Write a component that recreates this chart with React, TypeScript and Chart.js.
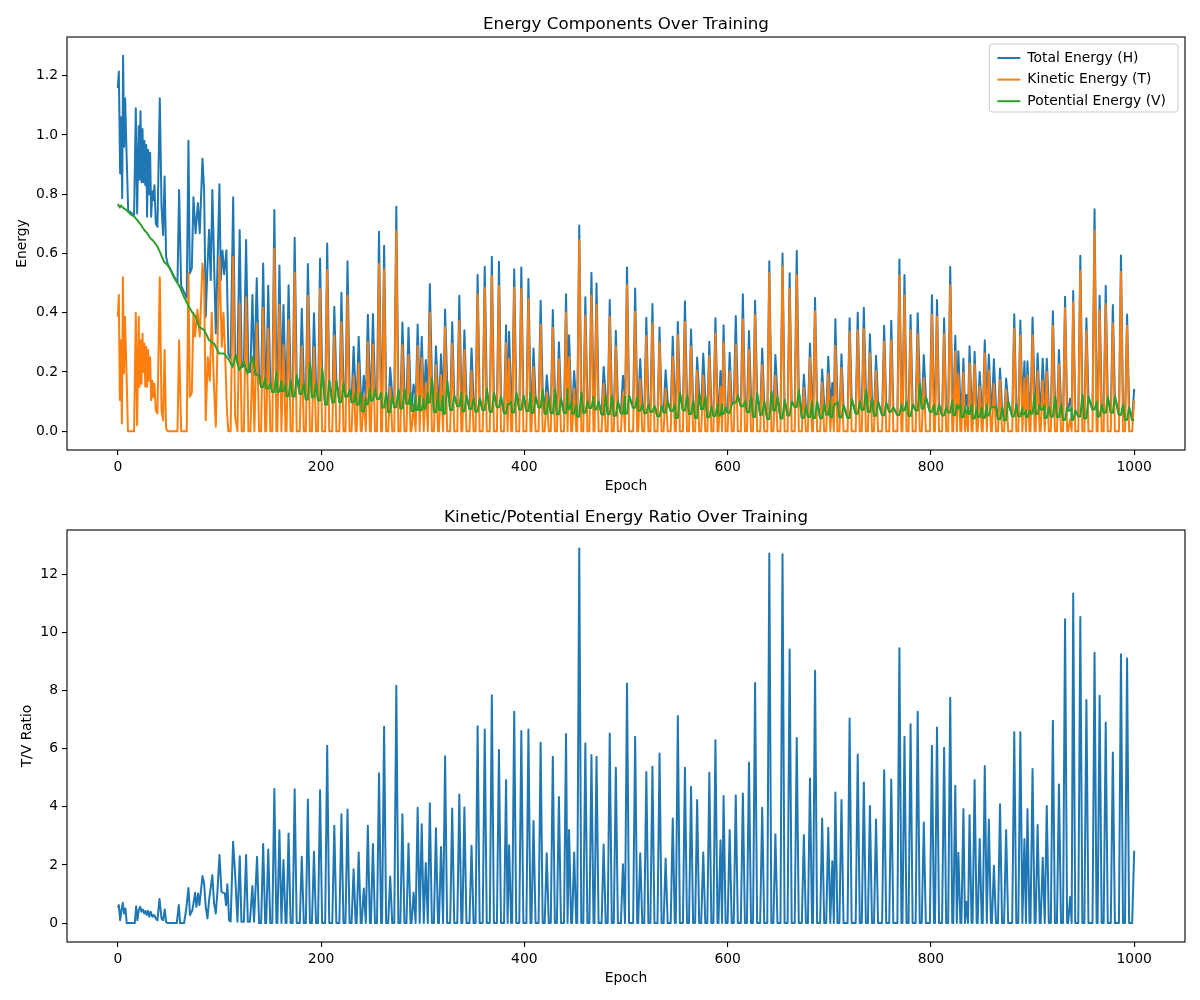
import { useEffect, useRef } from "react";
import { Chart, registerables } from "chart.js";

Chart.register(...registerables);

const FONT = "'DejaVu Sans', sans-serif";
const BLUE = "#1f77b4";
const ORANGE = "#ff7f0e";
const GREEN = "#2ca02c";

// epochs 0-140: irregular start, read point by point as [epoch, value]
const earlyTotal: [number, number][] = [
  [0, 1.158], [1, 1.214], [2.3, 0.87], [3.3, 1.06], [4.3, 0.786], [5.2, 1.267], [6.2, 0.96], [7.2, 1.124],
  [8.5, 0.95], [10.2, 0.745], [16, 0.73], [17.7, 1.09], [19, 0.735], [20.6, 1.03], [21.3, 0.85], [22.3, 1.08],
  [23.3, 0.84], [24.3, 1.02], [25.2, 0.84], [26.2, 0.98], [27, 0.83], [28, 0.966], [28.8, 0.724], [29.8, 0.95],
  [30.8, 0.8], [31.8, 0.94], [32.8, 0.724], [34, 0.81], [35, 0.78], [36, 0.83], [37.4, 0.7], [39, 0.69],
  [41.3, 1.124], [43, 0.758], [44.6, 0.662], [46, 0.86], [47.5, 0.59], [49, 0.565], [58.7, 0.5], [60.3, 0.814],
  [62.3, 0.49], [67.8, 0.45], [69.5, 0.98], [70.8, 0.533], [72.8, 0.55], [74.4, 0.79], [76.5, 0.668], [78.8, 0.77],
  [80.6, 0.668], [83.3, 0.92], [84.9, 0.814], [86.5, 0.386], [88.2, 0.555], [89.8, 0.68], [91.4, 0.51], [93, 0.814],
  [96.4, 0.33], [98, 0.55], [100, 0.834], [101.3, 0.51], [103, 0.61], [104.6, 0.53], [106.9, 0.611], [108.8, 0.26],
  [111, 0.245], [113.5, 0.79], [115.4, 0.26], [117.7, 0.23], [119.9, 0.679], [121.9, 0.215], [124, 0.22],
  [126.2, 0.645], [128.5, 0.2], [130.5, 0.2], [132.4, 0.46], [134.4, 0.19], [136.7, 0.516], [139, 0.185],
];

const earlyKinetic: [number, number][] = [
  [0, 0.386], [1, 0.46], [2, 0.105], [3, 0.307], [4, 0.026], [5, 0.52], [6, 0.195], [7, 0.386], [8.5, 0.206],
  [10, 0], [16, 0], [17.7, 0.4], [19, 0.02], [20.6, 0.386], [21.3, 0.15], [22.3, 0.307], [23.3, 0.16], [24.3, 0.33],
  [25.2, 0.2], [26.2, 0.296], [27, 0.15], [28, 0.285], [28.8, 0.15], [29.8, 0.274], [30.8, 0.17], [31.8, 0.25],
  [32.8, 0.105], [34, 0.17], [35, 0.115], [36, 0.16], [37.4, 0.07], [39, 0.06], [41.3, 0.52], [43, 0.07],
  [44.6, 0.037], [46, 0.274], [47.5, 0.01], [49, 0], [58.7, 0], [60.3, 0.307], [62.3, 0], [67.8, 0], [69.5, 0.533],
  [70.8, 0.116], [72.8, 0.13], [74.4, 0.4], [76, 0.32], [78.3, 0.41], [80.6, 0.32], [83.3, 0.566], [84.9, 0.51],
  [86.5, 0.037], [88.5, 0.25], [90.5, 0.17], [92.4, 0.4], [94.4, 0.17], [96.4, 0.015], [98, 0.28], [100, 0.587],
  [102.3, 0.285], [104, 0.4], [105.6, 0.26], [107.5, 0.06], [108.8, 0], [111, 0], [113.5, 0.589], [115.4, 0.05],
  [117.7, 0], [119.9, 0.43], [121.9, 0], [124, 0], [126.2, 0.452], [128.5, 0], [130.5, 0], [132.4, 0.251],
  [134.4, 0], [136.7, 0.364], [139, 0],
];

const earlyPotential: [number, number][] = [
  [0, 0.767], [2, 0.755], [3, 0.762], [6, 0.752], [8, 0.748], [10, 0.741], [13, 0.73], [16, 0.725], [19, 0.713],
  [22, 0.7], [26, 0.679], [29, 0.668], [32, 0.651], [35, 0.642], [39, 0.623], [42, 0.6], [45.5, 0.572], [49, 0.56],
  [52, 0.544], [55, 0.52], [58.7, 0.5], [62, 0.48], [65, 0.454], [70, 0.42], [73.4, 0.4], [76.7, 0.386], [80, 0.352],
  [85, 0.341], [89.8, 0.307], [94.7, 0.296], [99.7, 0.262], [104.6, 0.262], [109.5, 0.24], [112.8, 0.217],
  [116, 0.257], [119.3, 0.206], [124, 0.234], [127.5, 0.195], [132.4, 0.251], [135.7, 0.195], [139, 0.185],
];

const earlyRatio: [number, number][] = [
  [0, 0.53], [1, 0.62], [2.3, 0.1], [3.6, 0.45], [4.9, 0.7], [6.2, 0.33], [7.5, 0.5], [8.8, 0], [16.7, 0], [18, 0.58],
  [19.3, 0.1], [20.6, 0.45], [22, 0.56], [23.3, 0.39], [24.6, 0.47], [25.9, 0.33], [27.2, 0.42], [28.5, 0.28],
  [29.8, 0.42], [31, 0.22], [32.4, 0.39], [34, 0.22], [35.7, 0.28], [37.4, 0.16], [39, 0.1], [41, 0.83], [43, 0.16],
  [44.6, 0.1], [46.2, 0.47], [47.5, 0.04], [49, 0], [58, 0], [60, 0.62], [61.3, 0], [65.2, 0], [67.2, 0.45],
  [69.5, 1.21], [71, 0.28], [73.4, 0.45], [76, 1.04], [77.3, 0.56], [79, 1.02], [80.3, 0.62], [81.6, 1.04],
  [83.3, 1.62], [84.9, 1.36], [86.5, 0.56], [88.2, 0.16], [89.8, 0.79], [91.5, 1.25], [93, 1.65], [94.7, 0.68],
  [96.4, 0.33], [98, 1.08], [100, 2.34], [102, 1.08], [103.3, 1.05], [105.3, 1.02], [106.5, 0.62], [107.8, 1.34],
  [109.5, 0.1], [111, 0.05], [113.4, 2.8], [115.4, 1.7], [117.7, 0.05], [120, 2.3], [121.6, 0.05], [124, 0.05],
  [126.2, 2.34], [127.9, 0.05], [130, 0.05], [132.4, 1.28], [134, 0.05], [137, 2.28], [139, 0],
];

// from epoch ~143 on: one spike per entry
const spikeEpochs = [
  143, 148, 154, 159, 163, 168, 174, 181, 187, 193,
  199, 206, 213, 220, 226, 232, 237, 242, 246, 251,
  257, 262, 268, 274, 280, 286, 291, 295, 299, 303,
  307, 313, 318, 322, 329, 336, 341, 348, 354, 361,
  368, 375, 382, 385, 390, 397, 404, 409, 416, 422,
  428, 434, 441, 444, 449, 454, 460, 466, 471, 478,
  484, 490, 497, 501, 509, 514, 520, 526, 533, 539,
  546, 551, 558, 564, 570, 576, 582, 588, 593, 596,
  602, 608, 615, 621, 627, 634, 641, 647, 654, 661,
  668, 675, 681, 686, 693, 699, 703, 706, 712, 720,
  728, 734, 740, 746, 754, 761, 769, 774, 780, 787,
  793, 801, 806, 813, 819, 824, 827, 832, 835, 838,
  843, 848, 853, 857, 862, 868, 874, 882, 888, 892,
  895, 900, 905, 910, 914, 920, 926, 932, 937, 940,
  947, 953, 961, 966, 972, 979, 987, 993, 1000,
];

const kineticPeaks = [
  0.417, 0.347, 0.615, 0.426, 0.29, 0.375, 0.536, 0.287, 0.457, 0.283,
  0.479, 0.544, 0.323, 0.369, 0.458, 0.187, 0.229, 0.12, 0.302, 0.292,
  0.564, 0.546, 0.15, 0.677, 0.29, 0.257, 0.09, 0.288, 0.248, 0.163,
  0.4, 0.223, 0.189, 0.352, 0.296, 0.373, 0.274, 0.204, 0.462, 0.484,
  0.524, 0.491, 0.298, 0.245, 0.484, 0.48, 0.446, 0.217, 0.36, 0.13,
  0.349, 0.243, 0.401, 0.25, 0.144, 0.645, 0.39, 0.457, 0.426, 0.161,
  0.386, 0.287, 0.127, 0.493, 0.403, 0.175, 0.322, 0.364, 0.3, 0.143,
  0.251, 0.324, 0.369, 0.285, 0.204, 0.187, 0.255, 0.33, 0.15, 0.3,
  0.203, 0.293, 0.378, 0.274, 0.392, 0.223, 0.533, 0.187, 0.557, 0.48,
  0.527, 0.146, 0.248, 0.405, 0.164, 0.195, 0.116, 0.288, 0.214, 0.336,
  0.341, 0.345, 0.262, 0.203, 0.302, 0.307, 0.525, 0.457, 0.341, 0.328,
  0.18, 0.394, 0.386, 0.328, 0.492, 0.268, 0.193, 0.197, 0.06, 0.229,
  0.225, 0.152, 0.262, 0.206, 0.161, 0.172, 0.141, 0.345, 0.324, 0.178,
  0.189, 0.324, 0.204, 0.172, 0.2, 0.356, 0.226, 0.416, 0.04, 0.435,
  0.542, 0.338, 0.676, 0.407, 0.429, 0.364, 0.538, 0.356, 0.105,
];

const totalPeaks = [
  0.566, 0.491, 0.747, 0.559, 0.426, 0.493, 0.653, 0.413, 0.564, 0.398,
  0.583, 0.634, 0.42, 0.467, 0.574, 0.285, 0.319, 0.187, 0.393, 0.396,
  0.673, 0.626, 0.214, 0.758, 0.367, 0.349, 0.158, 0.36, 0.319, 0.24,
  0.497, 0.287, 0.26, 0.411, 0.368, 0.457, 0.341, 0.279, 0.528, 0.555,
  0.589, 0.572, 0.358, 0.336, 0.547, 0.553, 0.514, 0.279, 0.44, 0.189,
  0.409, 0.3, 0.462, 0.324, 0.203, 0.694, 0.452, 0.535, 0.499, 0.217,
  0.443, 0.339, 0.187, 0.553, 0.482, 0.244, 0.383, 0.429, 0.35, 0.206,
  0.319, 0.369, 0.439, 0.343, 0.249, 0.262, 0.302, 0.381, 0.203, 0.358,
  0.265, 0.389, 0.462, 0.338, 0.44, 0.279, 0.574, 0.257, 0.6, 0.533,
  0.609, 0.191, 0.296, 0.45, 0.208, 0.251, 0.163, 0.378, 0.26, 0.381,
  0.4, 0.417, 0.327, 0.255, 0.356, 0.373, 0.58, 0.527, 0.392, 0.398,
  0.257, 0.459, 0.443, 0.381, 0.555, 0.322, 0.27, 0.245, 0.122, 0.287,
  0.268, 0.2, 0.307, 0.259, 0.243, 0.212, 0.178, 0.395, 0.374, 0.236,
  0.236, 0.384, 0.262, 0.245, 0.245, 0.405, 0.274, 0.454, 0.11, 0.473,
  0.592, 0.381, 0.749, 0.457, 0.491, 0.426, 0.593, 0.394, 0.143,
];

// potential energy bump just after each spike
const potentialRebound = [
  0.18, 0.16, 0.2, 0.17, 0.16, 0.17, 0.19, 0.16, 0.23, 0.16,
  0.21, 0.17, 0.17, 0.16, 0.14, 0.13, 0.13, 0.11, 0.144, 0.14,
  0.13, 0.13, 0.12, 0.14, 0.14, 0.13, 0.12, 0.12, 0.11, 0.13,
  0.18, 0.13, 0.12, 0.17, 0.12, 0.13, 0.12, 0.11, 0.11, 0.144,
  0.13, 0.116, 0.09, 0.1, 0.13, 0.12, 0.13, 0.116, 0.14, 0.11,
  0.14, 0.11, 0.144, 0.1, 0.09, 0.13, 0.1, 0.116, 0.1, 0.12,
  0.12, 0.1, 0.116, 0.12, 0.116, 0.09, 0.09, 0.085, 0.085, 0.1,
  0.09, 0.13, 0.12, 0.1, 0.127, 0.116, 0.083, 0.09, 0.09, 0.08,
  0.09, 0.12, 0.1, 0.116, 0.127, 0.1, 0.133, 0.116, 0.105, 0.1,
  0.138, 0.083, 0.1, 0.1, 0.09, 0.1, 0.09, 0.1, 0.088, 0.11,
  0.1, 0.138, 0.11, 0.1, 0.095, 0.08, 0.09, 0.1, 0.09, 0.16,
  0.116, 0.09, 0.09, 0.08, 0.105, 0.09, 0.09, 0.08, 0.08, 0.09,
  0.08, 0.08, 0.09, 0.08, 0.08, 0.08, 0.1, 0.09, 0.08, 0.07,
  0.07, 0.127, 0.09, 0.09, 0.08, 0.116, 0.09, 0.08, 0.08, 0.07,
  0.122, 0.116, 0.1, 0.09, 0.116, 0.118, 0.09, 0.08, 0.04,
];

const ratioPeaks = [
  2.72, 2.53, 4.61, 3.19, 2.17, 3.08, 4.6, 2.28, 4.25, 2.45,
  4.57, 6.1, 3.35, 3.74, 3.91, 1.85, 2.43, 1.19, 3.35, 2.72,
  5.15, 6.75, 1.6, 8.16, 3.74, 2.74, 1.05, 3.97, 3.4, 2.07,
  4.12, 3.26, 2.62, 5.74, 3.94, 4.42, 3.98, 2.66, 6.77, 6.66,
  7.84, 5.95, 4.92, 2.68, 7.27, 6.61, 6.66, 3.51, 6.2, 2.4,
  5.72, 4.34, 6.5, 3.2, 2.43, 12.88, 6.18, 5.78, 5.72, 2.7,
  6.52, 5.34, 2.02, 8.24, 6.41, 2.4, 5.2, 5.38, 5.83, 2.22,
  3.6, 7.12, 5.34, 4.69, 4.23, 2.43, 5.17, 6.29, 2.85, 4.37,
  3.2, 4.4, 4.46, 5.52, 8.26, 3.97, 12.71, 3.06, 12.69, 9.41,
  6.37, 3.03, 4.97, 8.68, 3.6, 3.28, 2.13, 4.49, 4.23, 7.04,
  5.8, 4.84, 4.03, 3.56, 5.26, 4.94, 9.45, 6.41, 6.84, 7.27,
  3.46, 6.1, 6.73, 6.03, 7.75, 4.72, 2.42, 3.92, 0.73, 3.71,
  4.92, 2.89, 5.4, 3.56, 1.97, 4.09, 3.2, 6.56, 6.56, 2.89,
  3.92, 5.3, 3.37, 2.25, 4.03, 6.96, 4.77, 10.45, 0.9, 11.34,
  10.53, 7.67, 9.3, 7.82, 6.9, 5.87, 9.25, 9.1, 2.49,
];

const xTicks = [0, 200, 400, 600, 800, 1000];
const energyTicks = [0, 0.2, 0.4, 0.6, 0.8, 1.0, 1.2];
const ratioTicks = [0, 2, 4, 6, 8, 10, 12];

type Pt = { x: number; y: number };

const pts = (list: [number, number][]): Pt[] => list.map(([x, y]) => ({ x, y }));

// half-width of a spike, limited by its neighbour
const side = (i: number, dir: number) => {
  const j = i + dir;
  if (j < 0 || j >= spikeEpochs.length) return 2;
  return Math.min(2, Math.abs(spikeEpochs[j] - spikeEpochs[i]) / 2);
};

const spikes = (before: (i: number) => number, peak: (i: number) => number, after: (i: number) => number, flat = false) => {
  const out: Pt[] = [];
  spikeEpochs.forEach((e, i) => {
    out.push({ x: e - side(i, -1), y: before(i) });
    out.push({ x: e, y: flat ? before(i) : peak(i) });
    if (e + side(i, 1) <= 1000) out.push({ x: e + side(i, 1), y: after(i) });
  });
  return out;
};

const baseline = (i: number) => totalPeaks[i] - kineticPeaks[i];

const totalData = [...pts(earlyTotal), ...spikes(baseline, (i) => totalPeaks[i], (i) => potentialRebound[i])];
const kineticData = [...pts(earlyKinetic), ...spikes(() => 0, (i) => kineticPeaks[i], () => 0)];
const potentialData = [...pts(earlyPotential), ...spikes(baseline, baseline, (i) => potentialRebound[i], true)];
const ratioData = [...pts(earlyRatio), ...spikes(() => 0, (i) => ratioPeaks[i], () => 0)];

const line = (label: string, data: Pt[], color: string) => ({
  label,
  data,
  borderColor: color,
  backgroundColor: color,
  borderWidth: 2,
  pointRadius: 0,
  tension: 0,
  fill: false,
  borderJoinStyle: "round" as const,
});

const decor = (
  title: string,
  xLabel: string,
  yLabel: string,
  yLabelX: number,
  legend?: { label: string; color: string }[]
) => ({
  id: "decor",
  afterDraw(chart: any) {
    const { ctx, chartArea: a } = chart;
    ctx.save();
    ctx.strokeStyle = "#000";
    ctx.lineWidth = 1.1;
    ctx.strokeRect(a.left, a.top, a.right - a.left, a.bottom - a.top);

    ctx.fillStyle = "#000";
    ctx.textAlign = "center";
    ctx.textBaseline = "alphabetic";
    ctx.font = `16.7px ${FONT}`;
    ctx.fillText(title, (a.left + a.right) / 2, a.top - 8.3);

    ctx.font = `13.9px ${FONT}`;
    ctx.textBaseline = "middle";
    ctx.fillText(xLabel, (a.left + a.right) / 2, a.bottom + 36.5);
    ctx.save();
    ctx.translate(yLabelX, (a.top + a.bottom) / 2);
    ctx.rotate(-Math.PI / 2);
    ctx.fillText(yLabel, 0, 0);
    ctx.restore();

    if (legend) {
      const textW = Math.max(...legend.map((l) => ctx.measureText(l.label).width));
      const w = 38 + textW + 12;
      const h = 68;
      const right = a.right - 7;
      const top = a.top + 7;
      const left = right - w;
      ctx.fillStyle = "rgba(255,255,255,0.8)";
      ctx.strokeStyle = "#cccccc";
      ctx.lineWidth = 1;
      ctx.beginPath();
      ctx.roundRect(left, top, w, h, 3);
      ctx.fill();
      ctx.stroke();
      legend.forEach((l, i) => {
        const y = top + 14 + i * 21.6;
        ctx.strokeStyle = l.color;
        ctx.lineWidth = 2;
        ctx.beginPath();
        ctx.moveTo(left + 8, y);
        ctx.lineTo(left + 31, y);
        ctx.stroke();
        ctx.fillStyle = "#000";
        ctx.textAlign = "left";
        ctx.textBaseline = "middle";
        ctx.fillText(l.label, left + 38, y);
      });
    }
    ctx.restore();
  },
});

const axis = (min: number, max: number, ticks: number[], fmt: (v: number) => string, fit: (s: any) => void) => ({
  type: "linear" as const,
  min,
  max,
  afterBuildTicks: (s: any) => {
    s.ticks = ticks.map((value) => ({ value }));
  },
  afterFit: fit,
  grid: { display: true, drawOnChartArea: false, drawTicks: true, tickLength: 5, color: "#000", lineWidth: 1.1 },
  border: { display: false },
  ticks: {
    color: "#000",
    font: { family: FONT, size: 13.9 },
    padding: 4,
    autoSkip: false,
    maxRotation: 0,
    callback: (v: any) => fmt(Number(v)),
  },
});

const options = (padTop: number, xHeight: number, yMin: number, yMax: number, yTicks: number[], yFmt: (v: number) => string) => ({
  responsive: false,
  animation: false as const,
  events: [],
  layout: { padding: { top: padTop, right: 15, left: 0, bottom: 0 } },
  plugins: { legend: { display: false }, title: { display: false }, tooltip: { enabled: false } },
  scales: {
    x: axis(-50, 1050, xTicks, (v) => String(v), (s) => { s.height = xHeight; }),
    y: axis(yMin, yMax, yTicks, yFmt, (s) => { s.width = 67; }),
  },
});

const EnergyChart = () => {
  const chartRef = useRef<HTMLCanvasElement>(null);

  useEffect(() => {
    if (!chartRef.current) return;
    const chart = new Chart(chartRef.current, {
      type: "line",
      data: {
        datasets: [
          line("Potential Energy (V)", potentialData, GREEN),
          line("Kinetic Energy (T)", kineticData, ORANGE),
          line("Total Energy (H)", totalData, BLUE),
        ],
      },
      options: options(37, 50, -0.0634, 1.3306, energyTicks, (v) => v.toFixed(1)) as any,
      plugins: [
        decor("Energy Components Over Training", "Epoch", "Energy", 22, [
          { label: "Total Energy (H)", color: BLUE },
          { label: "Kinetic Energy (T)", color: ORANGE },
          { label: "Potential Energy (V)", color: GREEN },
        ]),
      ],
    });
    return () => chart.destroy();
  }, []);

  return <canvas ref={chartRef} width={1200} height={500} style={{ display: "block" }} />;
};

const RatioChart = () => {
  const chartRef = useRef<HTMLCanvasElement>(null);

  useEffect(() => {
    if (!chartRef.current) return;
    const chart = new Chart(chartRef.current, {
      type: "line",
      data: { datasets: [line("T/V Ratio", ratioData, BLUE)] },
      options: options(30, 58, -0.65, 13.52, ratioTicks, (v) => String(v)) as any,
      plugins: [decor("Kinetic/Potential Energy Ratio Over Training", "Epoch", "T/V Ratio", 27)],
    });
    return () => chart.destroy();
  }, []);

  return <canvas ref={chartRef} width={1200} height={500} style={{ display: "block" }} />;
};

export default function App() {
  return (
    <div style={{ position: "absolute", left: 0, top: 0, width: 1200, height: 1000, background: "#fff" }}>
      <EnergyChart />
      <RatioChart />
    </div>
  );
}
